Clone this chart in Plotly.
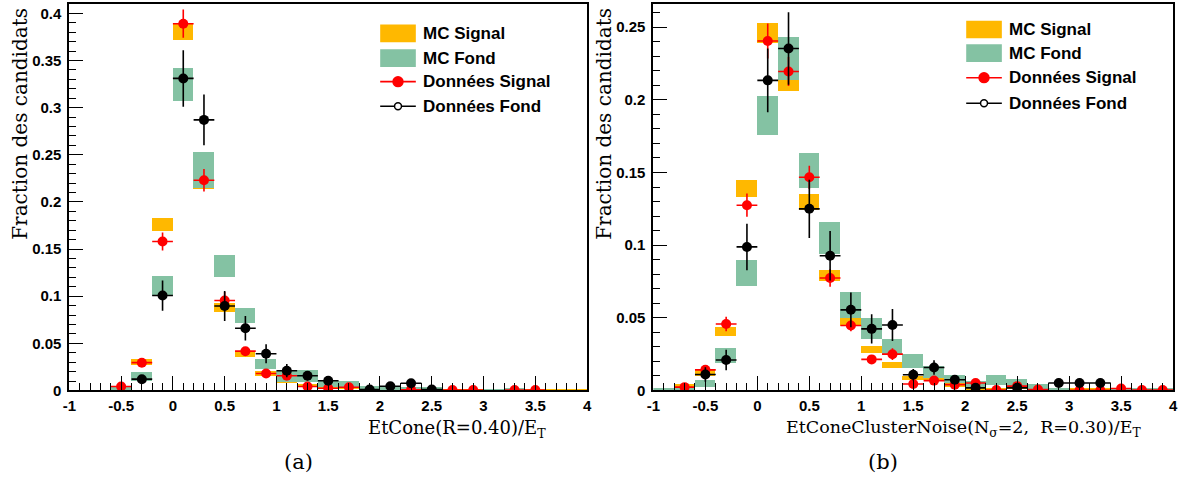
import numpy as np
import plotly.graph_objects as go

# ---------------- data ----------------
centers = [-0.9, -0.7, -0.5, -0.3, -0.1, 0.1, 0.3, 0.5, 0.7, 0.9, 1.1, 1.3, 1.5,
           1.7, 1.9, 2.1, 2.3, 2.5, 2.7, 2.9, 3.1, 3.3, 3.5, 3.7, 3.9]
bin_half = 0.1

# Panel (a): EtCone(R=0.40)/ET
mc_sig_a = [0, 0, 0.004, 0.030, 0.176, 0.381, 0.219, 0.088, 0.039, 0.018, 0.009, 0.0055, 0.004,
            0.003, 0.0012, 0.001, 0.001, 0.0008, 0.0005, 0.0005, 0.0004, 0.0004, 0.0004, 0.0004, 0.0004]
mc_sig_a_err = [0, 0, 0.0012, 0.003, 0.0065, 0.009, 0.005, 0.0045, 0.003, 0.0026, 0.0014, 0.0015, 0.001,
                0.001, 0.0008, 0.0008, 0.0008, 0.0006, 0.0005, 0.0005, 0.0004, 0.0004, 0.0004, 0.0004, 0.0004]
mc_bkg_a = [0, 0, 0.0025, 0.015, 0.111, 0.325, 0.234, 0.132, 0.0795, 0.0285, 0.0148, 0.0151, 0.0066,
            0.0063, 0.003, 0.0028, 0.002, 0.0018, 0, 0, 0.001, 0.0015, 0, 0, 0]
mc_bkg_a_err = [0, 0, 0.0025, 0.0045, 0.0105, 0.0175, 0.0195, 0.012, 0.0083, 0.0052, 0.006, 0.0064, 0.0031,
                0.0035, 0.0017, 0.0018, 0.0017, 0.0015, 0, 0, 0.0008, 0.001, 0, 0, 0]
dat_sig_a = [None, None, 0.0042, 0.0295, 0.158, 0.389, 0.223, 0.0955, 0.0417, 0.018, 0.0156, 0.0042, 0.0024,
             0.0035, None, None, 0.0008, None, 0.0004, 0.0004, None, 0.0004, 0.0004, None, None]
dat_sig_a_err = [0, 0, 0.003, 0.003, 0.0095, 0.015, 0.012, 0.009, 0.004, 0.003, 0.003, 0.0015, 0.0012,
                 0.0015, 0, 0, 0.0008, 0, 0.0004, 0.0004, 0, 0.0004, 0.0004, 0, 0]
dat_bkg_a = [None, None, None, 0.012, 0.1007, 0.331, 0.287, 0.0896, 0.066, 0.039, 0.021, 0.0156, 0.0104,
             None, 0.001, 0.0045, 0.0076, 0.001, None, None, None, None, None, None, None]
dat_bkg_a_err = [0, 0, 0, 0.004, 0.016, 0.03, 0.027, 0.016, 0.013, 0.010, 0.007, 0.005, 0.004,
                 0, 0.001, 0.003, 0.004, 0.0015, 0, 0, 0, 0, 0, 0, 0]

# Panel (b): EtConeClusterNoise(Nsigma=2, R=0.30)/ET
mc_sig_b = [0, 0.003, 0.012, 0.0407, 0.139, 0.246, 0.213, 0.1295, 0.0793, 0.0475, 0.028, 0.0176, 0.0086,
            0.008, 0.0037, 0.001, 0.001, 0.002, 0.0005, 0.0005, 0.001, 0.001, 0.0005, 0.0005, 0.0005]
mc_sig_b_err = [0, 0.0014, 0.002, 0.003, 0.006, 0.007, 0.007, 0.0055, 0.004, 0.003, 0.0024, 0.0023, 0.0012,
                0.001, 0.0015, 0.0008, 0.0008, 0.001, 0.0005, 0.0005, 0.0008, 0.0008, 0.0005, 0.0005, 0.0005]
mc_bkg_b = [0.0009, 0.0009, 0.005, 0.024, 0.081, 0.1895, 0.2285, 0.1516, 0.105, 0.059, 0.0426, 0.030, 0.0204,
            0.0128, 0.008, 0.0043, 0.0074, 0.0055, 0.003, 0.0009, 0, 0, 0.001, 0.001, 0.001]
mc_bkg_b_err = [0.0009, 0.0009, 0.0026, 0.005, 0.009, 0.0135, 0.015, 0.012, 0.011, 0.009, 0.007, 0.0056, 0.0051,
                0.0043, 0.0028, 0.002, 0.0034, 0.0026, 0.0016, 0.0009, 0, 0, 0.001, 0.001, 0.001]
dat_sig_b = [None, 0.0023, 0.0142, 0.0458, 0.1275, 0.2405, 0.2195, 0.1467, 0.0774, 0.0447, 0.0214, 0.025, 0.0045,
             0.0068, 0.004, 0.0052, 0.0003, 0.003, 0.0007, None, 0.0002, 0.0002, 0.0014, 0.0003, 0.0003]
dat_sig_b_err = [0, 0.0015, 0.002, 0.005, 0.008, 0.012, 0.010, 0.008, 0.006, 0.004, 0.003, 0.004, 0.002,
                 0.002, 0.0015, 0.002, 0.0003, 0.0015, 0.0007, 0, 0.0002, 0.0002, 0.001, 0.0003, 0.0003]
dat_bkg_b = [None, None, 0.011, 0.021, 0.0988, 0.2134, 0.2353, 0.125, 0.0927, 0.0555, 0.0424, 0.0451, 0.0108,
             0.0158, 0.0074, 0.0018, None, 0.0018, None, 0.0052, 0.0052, 0.0052, None, None, None]
dat_bkg_b_err = [0, 0, 0.005, 0.007, 0.016, 0.022, 0.025, 0.02, 0.017, 0.012, 0.010, 0.011, 0.004,
                 0.005, 0.003, 0.0018, 0, 0.0018, 0, 0.003, 0.003, 0.003, 0, 0, 0]

x_tickvals = [-1, -0.5, 0, 0.5, 1, 1.5, 2, 2.5, 3, 3.5, 4]
x_ticktext = ["-1", "-0.5", "0", "0.5", "1", "1.5", "2", "2.5", "3", "3.5", "4"]
y_tickvals_a = [0, 0.05, 0.1, 0.15, 0.2, 0.25, 0.3, 0.35, 0.4]
y_ticktext_a = ["0", "0.05", "0.1", "0.15", "0.2", "0.25", "0.3", "0.35", "0.4"]
y_tickvals_b = [0, 0.05, 0.1, 0.15, 0.2, 0.25]
y_ticktext_b = ["0", "0.05", "0.1", "0.15", "0.2", "0.25"]

legend_labels = ["MC Signal", "MC Fond", "Données Signal", "Données Fond"]
ytitle = "Fraction des candidats"
xtitle_a = "EtCone(R=0.40)/E<sub>T</sub>"
xtitle_b = "EtConeClusterNoise(N<sub>σ</sub>=2,  R=0.30)/E<sub>T</sub>"

# ---------------- style ----------------
ORANGE = "#FFB800"
GREEN = "#84C2A3"
W, H = 1187, 488

fig = go.Figure()


def add_panel(xa, ya, sig, sig_e, bkg, bkg_e, ds, ds_e, db, db_e):
    c = np.array(centers)
    for v, e, col in ((sig, sig_e, ORANGE), (bkg, bkg_e, GREEN)):
        v = np.array(v, float)
        e = np.array(e, float)
        fig.add_trace(go.Bar(x=c, y=2 * e, base=v - e, width=2 * bin_half,
                             marker=dict(color=col, line=dict(width=0)),
                             xaxis=xa, yaxis=ya, showlegend=False, hoverinfo="skip"))
    for v, e, col in ((ds, ds_e, "#FF0000"), (db, db_e, "#000000")):
        xs = [c[i] for i in range(len(c)) if v[i] is not None]
        ys = [v[i] for i in range(len(c)) if v[i] is not None]
        es = [e[i] for i in range(len(c)) if v[i] is not None]
        fig.add_trace(go.Scatter(
            x=xs, y=ys, mode="markers",
            marker=dict(color=col, size=10, line=dict(width=0)),
            error_y=dict(type="data", array=es, color=col, thickness=1.6, width=0),
            error_x=dict(type="data", array=[bin_half] * len(xs), color=col, thickness=1.6, width=0),
            xaxis=xa, yaxis=ya, showlegend=False, hoverinfo="skip"))


add_panel("x", "y", mc_sig_a, mc_sig_a_err, mc_bkg_a, mc_bkg_a_err,
          dat_sig_a, dat_sig_a_err, dat_bkg_a, dat_bkg_a_err)
add_panel("x2", "y2", mc_sig_b, mc_sig_b_err, mc_bkg_b, mc_bkg_b_err,
          dat_sig_b, dat_sig_b_err, dat_bkg_b, dat_bkg_b_err)

tickfont = dict(family="Liberation Sans", size=15, color="black", weight="bold")


def bold(lst):
    return ["<b>%s</b>" % t for t in lst]


def xaxis(domain, anchor):
    return dict(domain=domain, anchor=anchor, range=[-1, 4], tickmode="array",
                tickvals=x_tickvals, ticktext=bold(x_ticktext), ticks="inside", ticklen=14,
                tickwidth=1.2, tickcolor="black",
                minor=dict(tickmode="linear", tick0=-1, dtick=0.1, ticks="inside",
                           ticklen=7, tickwidth=1.2, tickcolor="black"),
                showline=True, linewidth=2, linecolor="black", mirror=True,
                showgrid=False, zeroline=False, tickfont=tickfont, ticklabelstandoff=1)


def yaxis(domain, anchor, top, tv, tt):
    return dict(domain=domain, anchor=anchor, range=[0, top], tickmode="array",
                tickvals=tv, ticktext=bold(tt),
                ticks="inside", ticklen=14, tickwidth=1.2, tickcolor="black",
                minor=dict(tickmode="linear", tick0=0, dtick=0.01, ticks="inside", ticklen=7,
                           tickwidth=1.2, tickcolor="black"),
                showline=True, linewidth=2, linecolor="black", mirror=True,
                showgrid=False, zeroline=False, tickfont=tickfont, ticklabelstandoff=3)


ydom = [(H - 397) / H, (H - 4) / H]
fig.update_layout(
    width=W, height=H, margin=dict(l=0, r=0, t=0, b=0),
    paper_bgcolor="white", plot_bgcolor="white", barmode="overlay", bargap=0,
    showlegend=False,
    xaxis=xaxis([63 / W, 586 / W], "y"),
    yaxis=yaxis(ydom, "x", 0.41, y_tickvals_a, y_ticktext_a),
    xaxis2=xaxis([653 / W, 1178 / W], "y2"),
    yaxis2=yaxis(ydom, "x2", 0.266, y_tickvals_b, y_ticktext_b),
)


def px(x):
    return x / W


def py(y):
    return 1 - y / H


shapes = []
annots = []


def legend(x0, rows):
    sw = 36
    for i, (lab, yc) in enumerate(zip(legend_labels, rows)):
        if i < 2:
            col = ORANGE if i == 0 else GREEN
            shapes.append(dict(type="rect", xref="paper", yref="paper",
                               x0=px(x0), x1=px(x0 + sw), y0=py(yc + 9), y1=py(yc - 9),
                               fillcolor=col, line=dict(width=0), layer="above"))
        else:
            col = "#FF0000" if i == 2 else "#000000"
            shapes.append(dict(type="line", xref="paper", yref="paper",
                               x0=px(x0), x1=px(x0 + sw), y0=py(yc), y1=py(yc),
                               line=dict(color=col, width=1.6), layer="above"))
            r = 5 if i == 2 else 3.5
            shapes.append(dict(type="circle", xref="paper", yref="paper",
                               x0=px(x0 + sw / 2 - r), x1=px(x0 + sw / 2 + r),
                               y0=py(yc + r), y1=py(yc - r),
                               fillcolor=col if i == 2 else "white",
                               line=dict(color=col, width=1.5), layer="above"))
        annots.append(dict(xref="paper", yref="paper", x=px(x0 + sw + 5), y=py(yc),
                           xanchor="left", yanchor="middle", showarrow=False, text="<b>%s</b>" % lab,
                           font=dict(family="Liberation Sans", size=17, color="black")))


legend(377, [34, 59, 83, 108])
legend(969, [30, 54, 79, 105])

for xc in (13, 603):
    annots.append(dict(xref="paper", yref="paper", x=px(xc), y=py(6), xanchor="center",
                       yanchor="top", textangle=-90, showarrow=False, text=ytitle,
                       font=dict(family="DejaVu Serif", size=20, color="black")))

serif = dict(family="DejaVu Serif", size=18, color="black")
annots.append(dict(xref="paper", yref="paper", x=px(547), y=py(436), xanchor="right",
                   yanchor="middle", showarrow=False, text=xtitle_a, font=serif))
annots.append(dict(xref="paper", yref="paper", x=px(1148), y=py(436), xanchor="right",
                   yanchor="middle", showarrow=False, text=xtitle_b,
                   font=dict(family="DejaVu Serif", size=17.5, color="black")))
annots.append(dict(xref="paper", yref="paper", x=px(294), y=py(470), xanchor="center",
                   yanchor="middle", showarrow=False, text="(a)",
                   font=dict(family="DejaVu Serif", size=21, color="black")))
annots.append(dict(xref="paper", yref="paper", x=px(885), y=py(470), xanchor="center",
                   yanchor="middle", showarrow=False, text="(b)",
                   font=dict(family="DejaVu Serif", size=21, color="black")))

fig.update_layout(shapes=shapes, annotations=annots)
fig.write_html("out.html", config={"displayModeBar": False},
               post_script="document.body.style.margin='0';")
